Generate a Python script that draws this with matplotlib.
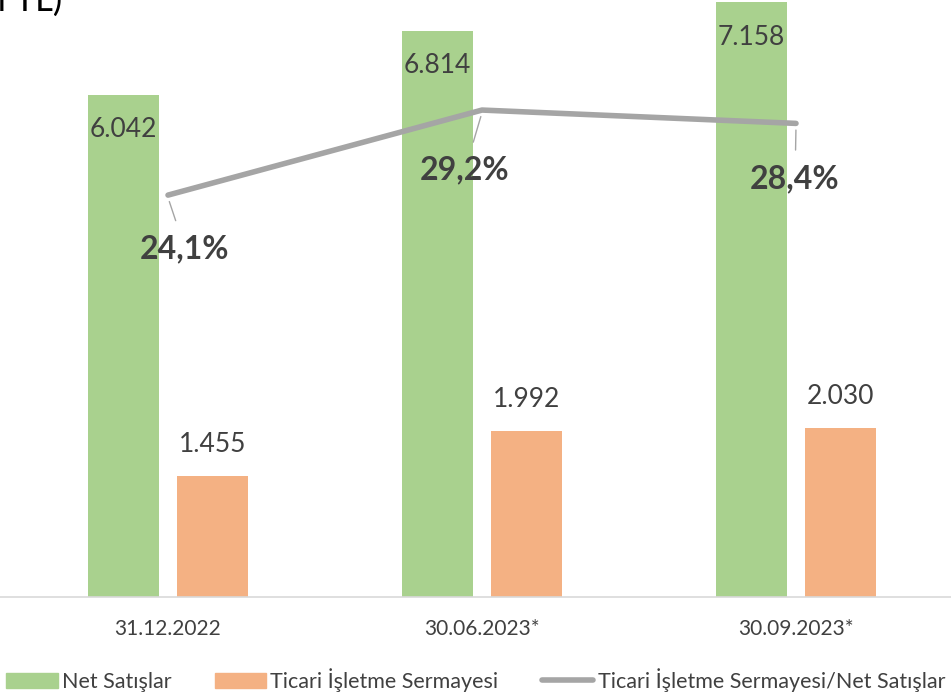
import numpy as np
import matplotlib
matplotlib.use("Agg")
from matplotlib import pyplot as plt
from matplotlib.patches import Patch
from matplotlib.lines import Line2D

# donnees du graphique
donemler = ["31.12.2022", "30.06.2023*", "30.09.2023*"]
net_satislar = [6042, 6814, 7158]
ticari_isletme = [1455, 1992, 2030]
oran = [24.1, 29.2, 28.4]
etiket_net = ["6.042", "6.814", "7.158"]
etiket_tis = ["1.455", "1.992", "2.030"]
etiket_oran = ["24,1%", "29,2%", "28,4%"]

yesil = "#A9D18E"
turuncu = "#F4B183"
gri = "#A5A5A5"
yazi = "#404040"

plt.rcParams["font.family"] = ["Lato", "DejaVu Sans"]

fig = plt.figure(figsize=(9.51, 6.96), dpi=100)
ax = fig.add_axes([0, 1 - 597 / 696, 1, 597 / 696])
x = np.arange(len(donemler))
w = 0.226
ax.bar(x - 0.142, net_satislar, w, color=yesil)
ax.bar(x + 0.142, ticari_isletme, w, color=turuncu)
ax.set_xlim(-168 / 314, (951 - 168) / 314)
ax.set_ylim(0, 597 / 0.0831)

# etiketler des barres
for i in range(len(x)):
    ax.text(x[i] - 0.142, net_satislar[i] - 420, etiket_net[i], ha="center", va="center",
            fontsize=19, color=yazi)
    ax.text(x[i] + 0.142, ticari_isletme[i] + 380, etiket_tis[i], ha="center", va="center",
            fontsize=19, color=yazi)

for s in ["top", "right", "left"]:
    ax.spines[s].set_visible(False)
ax.spines["bottom"].set_color("#D9D9D9")
ax.spines["bottom"].set_linewidth(1.2)
ax.set_yticks([])
ax.set_xticks(x)
ax.set_xticklabels(donemler, fontsize=15, color=yazi)
ax.tick_params(axis="x", length=0, pad=16)

# ligne secondaire
ax2 = ax.twinx()
ax2.set_ylim(0, 35.8)
ax2.plot(x, oran, color=gri, lw=4, solid_capstyle="round")
ax2.set_yticks([])
for s in ["top", "right", "left", "bottom"]:
    ax2.spines[s].set_visible(False)

decal = [(0.054, -3.2), (-0.054, -3.6), (-0.003, -3.3)]
for i in range(len(x)):
    tx = x[i] + decal[i][0]
    ty = oran[i] + decal[i][1]
    ax2.annotate(etiket_oran[i], xy=(x[i], oran[i] - 0.15), xytext=(tx, ty),
                 ha="center", va="center", fontsize=23, fontweight="bold", color=yazi,
                 arrowprops=dict(arrowstyle="-", color=gri, lw=1, shrinkA=8, shrinkB=3))

# titre coupe en haut
fig.text(62 / 951, 1 - 11 / 696, "(milyon TL)", ha="right", va="baseline", fontsize=25, color="black")

handles = [Patch(color=yesil), Patch(color=turuncu),
           Line2D([0], [0], color=gri, lw=4, solid_capstyle="round")]
labels = ["Net Satışlar", "Ticari İşletme Sermayesi", "Ticari İşletme Sermayesi/Net Satışlar"]
fig.legend(handles, labels, loc="lower center", bbox_to_anchor=(0.5, -0.022), ncol=3,
           frameon=False, fontsize=15.5, handlelength=2.4, handletextpad=0.2, columnspacing=2.0,
           labelcolor=yazi)

fig.savefig("out.png", dpi=100)
